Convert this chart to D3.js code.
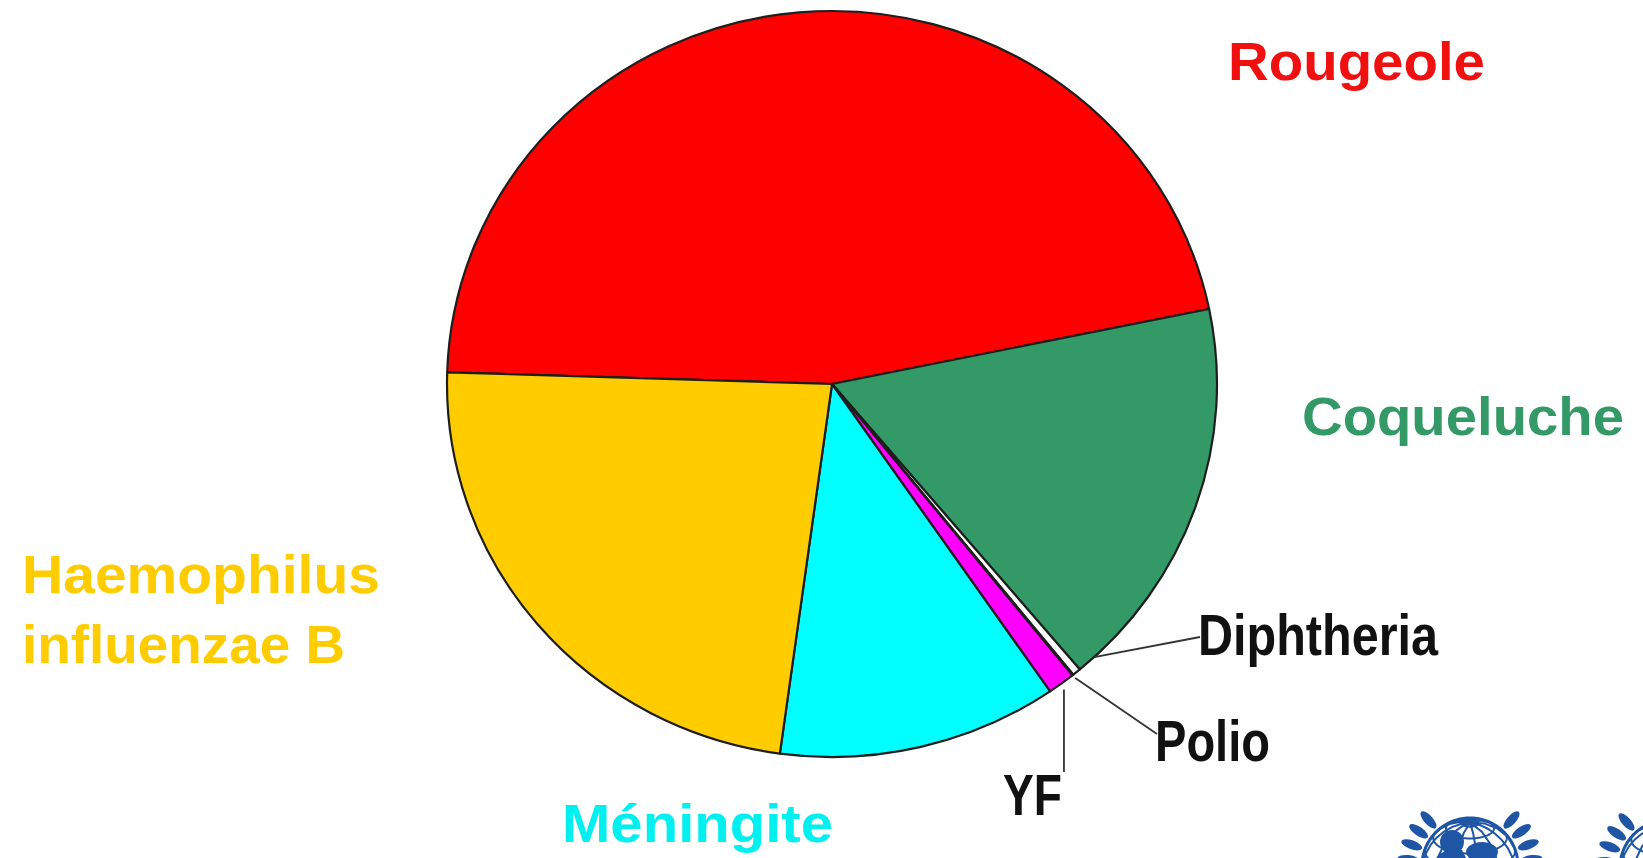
<!DOCTYPE html>
<html>
<head>
<meta charset="utf-8">
<script src="https://cdn.jsdelivr.net/npm/d3@7"></script>
<style>
    html, body { margin: 0; padding: 0; background: #fff; overflow: hidden; }
    text { font-family: "Liberation Sans", Arial, sans-serif; font-weight: bold; }
    .narrow { font-family: "Liberation Sans Narrow", "Liberation Sans", Arial, sans-serif; }
</style>
</head>
<body>
<svg id="chart" width="1643" height="858"></svg>
<script>
// Shares (%), clockwise from the red / yellow edge
const diseases = ["Rougeole", "Coqueluche", "Diphtheria", "Polio", "YF", "Méningite", "Haemophilus influenzae B"];
const shares = [46.3, 17.1, 0.35, 0.05, 1.15, 11.75, 23.35];

const sliceColours = ["#ff0000", "#339966", "#ffffff", "#ffffff", "#ff00ff", "#00ffff", "#ffcc00"];

const width = 1643, height = 858;
const cx = 832, cy = 384, rx = 385, ry = 373;
const startDeg = -88.2;

const dataset = diseases.map((name, i) => ({name: name, value: shares[i]}));
const colour = d3.scaleOrdinal(diseases, sliceColours);

const svg = d3.select("#chart")
    .attr("width", width)
    .attr("height", height);

svg.append("rect")
    .attr("width", width)
    .attr("height", height)
    .attr("fill", "#fff");

// Pie (slightly squashed, like the original)
const start = startDeg * Math.PI / 180;
const pie = d3.pie()
    .sort(null)
    .value(d => d.value)
    .startAngle(start)
    .endAngle(start + 2 * Math.PI);
const arcs = pie(dataset);

const arc = d3.arc()
    .innerRadius(0)
    .outerRadius(rx);

svg.append("g")
    .attr("transform", `translate(${cx},${cy}) scale(1,${ry / rx})`)
    .selectAll("path")
    .data(arcs)
    .join("path")
    .attr("d", arc)
    .attr("fill", d => colour(d.data.name))
    .attr("stroke", "#1e1e1e")
    .attr("stroke-width", 2.2)
    .attr("vector-effect", "non-scaling-stroke")
    .attr("stroke-linejoin", "round");

// point on the rim of the ellipse at d3 angle a
function rim(a, k) {
    return [cx + rx * k * Math.sin(a), cy - ry * k * Math.cos(a)];
}

// Big coloured labels
const bigLabels = {
    "Rougeole": {lines: ["Rougeole"], x: 1228, y: 80, len: [257], fill: "#f01010"},
    "Coqueluche": {lines: ["Coqueluche"], x: 1302, y: 435, len: [322], fill: "#339966"},
    "Haemophilus influenzae B": {lines: ["Haemophilus", "influenzae B"], x: 22, y: 593, len: [358, 323], fill: "#ffcc00"},
    "Méningite": {lines: ["Méningite"], x: 562, y: 842, len: [271], fill: "#00f0f0"}
};

Object.keys(bigLabels).forEach(name => {
    const l = bigLabels[name];
    l.lines.forEach((t, i) => {
        svg.append("text")
            .attr("x", l.x)
            .attr("y", l.y + i * 70)
            .attr("font-size", 53)
            .attr("fill", l.fill)
            .attr("textLength", l.len[i])
            .attr("lengthAdjust", "spacingAndGlyphs")
            .text(t);
    });
});

// Small black labels with leader lines
const smallLabels = {
    "Diphtheria": {x: 1198, y: 655, len: 240, end: [1200, 637], nudge: -3.5, k: 1.0},
    "Polio": {x: 1155, y: 761, len: 115, end: [1157, 734], nudge: 0, k: 1.01},
    "YF": {x: 1003, y: 815, len: 59, end: null, nudge: 0, k: 1.02}
};

arcs.forEach(a => {
    const l = smallLabels[a.data.name];
    if (!l) return;
    const mid = (a.startAngle + a.endAngle) / 2 + l.nudge * Math.PI / 180;
    const p = rim(mid, l.k);
    const end = l.end ? l.end : [p[0] - 2, 772];
    svg.append("line")
        .attr("x1", l.end ? p[0] : end[0])
        .attr("y1", p[1])
        .attr("x2", end[0])
        .attr("y2", end[1])
        .attr("stroke", "#333")
        .attr("stroke-width", 1.8);
    svg.append("text")
        .attr("class", "narrow")
        .attr("x", l.x)
        .attr("y", l.y)
        .attr("font-size", 58)
        .attr("fill", "#111")
        .attr("textLength", l.len)
        .attr("lengthAdjust", "spacingAndGlyphs")
        .text(a.data.name);
});

// Logos in the bottom-right corner (cut off by the frame)
const blue = "#1f55a5";
function drawLogo(x, y, r) {
    const logo = svg.append("g");
    const proj = d3.geoOrthographic()
        .scale(r)
        .translate([x, y])
        .rotate([10, -25]);
    const path = d3.geoPath(proj);
    logo.append("path")
        .datum(d3.geoGraticule().step([30, 20])())
        .attr("d", path)
        .attr("fill", "none")
        .attr("stroke", blue)
        .attr("stroke-width", 2);
    logo.append("path")
        .datum({type: "Sphere"})
        .attr("d", path)
        .attr("fill", "none")
        .attr("stroke", blue)
        .attr("stroke-width", 3);
    // laurel leaves on both sides
    [-1, 1].forEach(side => {
        d3.range(5).forEach(i => {
            const phi = (42 + i * 14) * Math.PI / 180;
            const lx = x + side * (r + 14) * Math.sin(phi);
            const ly = y - (r + 14) * Math.cos(phi);
            logo.append("ellipse")
                .attr("cx", lx)
                .attr("cy", ly)
                .attr("rx", 4.5)
                .attr("ry", 11)
                .attr("fill", blue)
                .attr("transform", `rotate(${side * (42 + i * 14)},${lx},${ly})`);
        });
    });
    return logo;
}

const unicef = drawLogo(1470, 866, 48);
unicef.append("circle").attr("cx", 1452).attr("cy", 842).attr("r", 12).attr("fill", blue);
unicef.append("path")
    .attr("d", "M1436,858 Q1446,846 1462,850 L1466,858 Z")
    .attr("fill", blue);
unicef.append("ellipse").attr("cx", 1482).attr("cy", 852).attr("rx", 16).attr("ry", 10).attr("fill", blue);

drawLogo(1668, 868, 48);
</script>
</body>
</html>
